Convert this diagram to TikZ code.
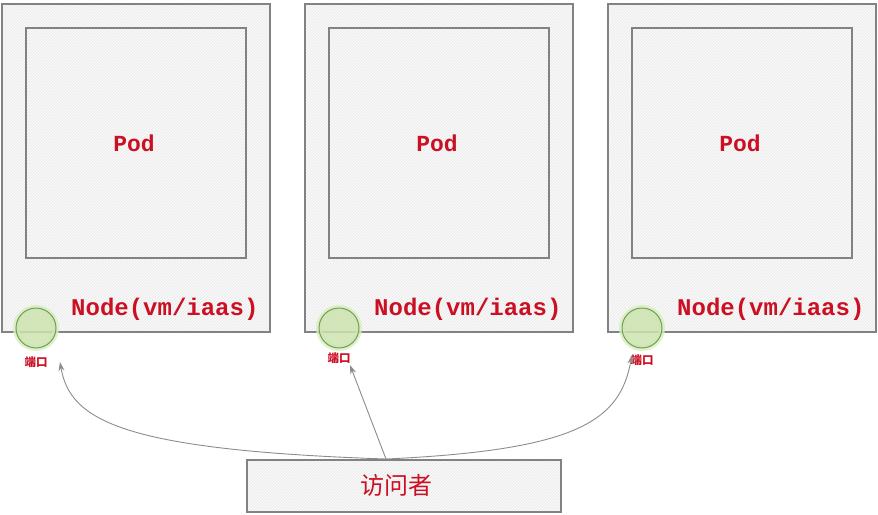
\documentclass[tikz,border=0pt]{standalone}
\usepackage{fontspec}
\setmonofont{Liberation Mono}
\newfontfamily\cjk{Noto Sans CJK SC}
\usetikzlibrary{patterns,arrows.meta}
\definecolor{txtred}{RGB}{204,16,36}
\definecolor{boxgray}{RGB}{238,238,238}
\definecolor{edgegray}{RGB}{130,130,130}
\definecolor{linegray}{RGB}{140,140,140}
\definecolor{portfill}{RGB}{205,228,176}
\definecolor{portedge}{RGB}{115,155,95}
\definecolor{portglow}{RGB}{215,240,190}
\tikzset{
  x=1pt, y=-1pt,
  sketchbox/.style={preaction={fill=boxgray}, preaction={pattern=north east lines, pattern color=white}, draw=edgegray, line width=1.1pt},
  podlbl/.style={text=txtred, font=\ttfamily\bfseries\fontsize{23}{23}\selectfont},
  nodelbl/.style={text=txtred, font=\ttfamily\bfseries\fontsize{24}{24}\selectfont, anchor=east},
  port/.style={circle, minimum size=40pt, inner sep=0pt, draw=portedge, line width=1pt, fill=portfill, fill opacity=0.85,
    preaction={draw=portglow, line width=6pt, draw opacity=0.8}},
  portlbl/.style={text=txtred, font=\cjk\bfseries\fontsize{11.5}{11.5}\selectfont},
  conn/.style={draw=linegray, line width=0.9pt, -{Stealth[length=9pt,width=6pt]}}
}
\begin{document}
\begin{tikzpicture}
\useasboundingbox (0,0) rectangle (878,514);
\foreach \i/\dx in {1/0,2/303,3/606}{
  \draw[sketchbox] (2+\dx,4) rectangle (270+\dx,332);
  \draw[sketchbox] (26+\dx,28) rectangle (246+\dx,258);
  \node[podlbl] (pod\i) at (134+\dx,143) {Pod};
  \node[nodelbl] (lbl\i) at (262+\dx,309) {Node(vm/iaas)};
  \node[port] (port\i) at (36+\dx,328) {};
}
\node[portlbl] (pl1) at (36,362) {端口};
\node[portlbl] (pl2) at (339,358) {端口};
\node[portlbl] (pl3) at (642,360) {端口};
\draw[sketchbox] (247,460) rectangle (561,512);
\node[text=txtred, font=\cjk\fontsize{24}{24}\selectfont] (vis) at (396,485) {访问者};
\coordinate (s) at (386,459);
\coordinate (e1) at (60,362);
\coordinate (e2) at (350,365);
\coordinate (e3) at (632,355);
\draw[conn] (s) .. controls (120,450) and (70,420) .. (e1);
\draw[conn] (s) -- (e2);
\draw[conn] (s) .. controls (580,450) and (620,420) .. (e3);
\end{tikzpicture}
\end{document}
